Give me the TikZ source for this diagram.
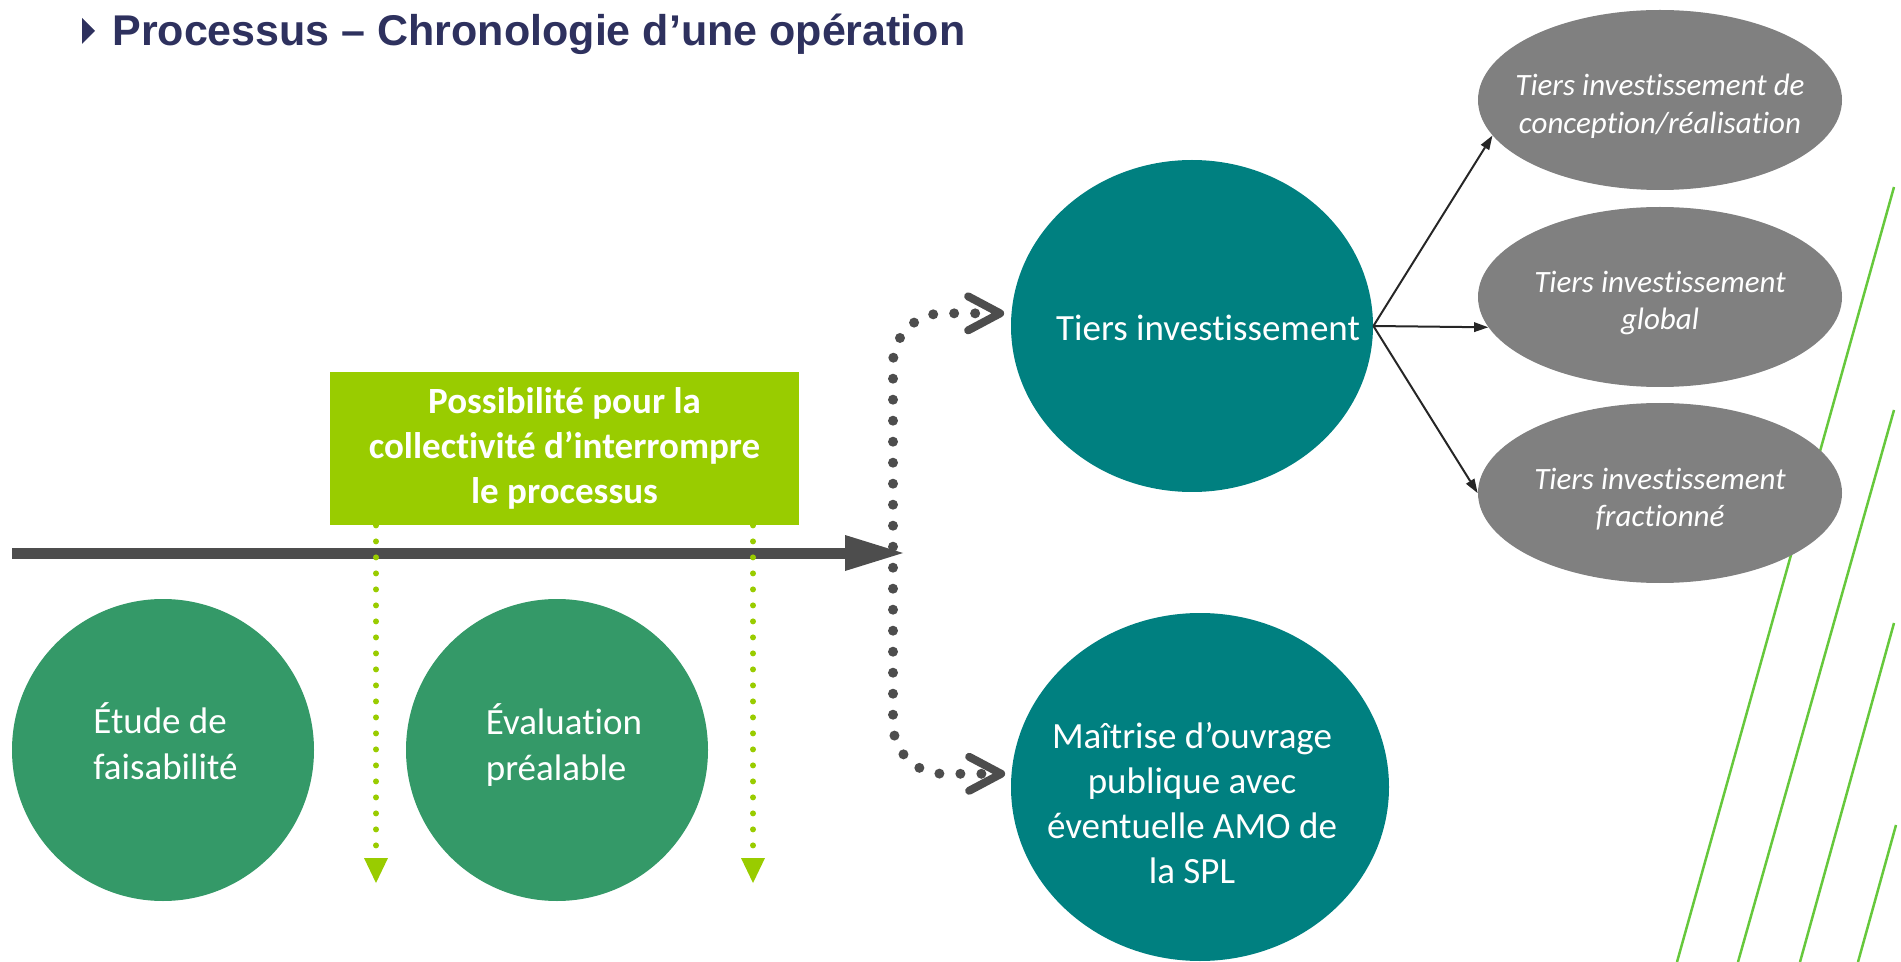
\documentclass[tikz,border=0pt]{standalone}
\usepackage{fontspec}
\setmainfont{Carlito}[Ligatures=NoCommon]
\newfontfamily\headfont{Liberation Sans}
\usetikzlibrary{arrows.meta,shapes.geometric}
\definecolor{titlenavy}{RGB}{46,49,94}
\definecolor{pathgray}{RGB}{77,77,77}
\definecolor{limegreen}{RGB}{153,204,0}
\definecolor{stepgreen}{RGB}{52,153,104}
\definecolor{tealfill}{RGB}{0,128,128}
\definecolor{optiongray}{RGB}{128,128,128}
\definecolor{stripegreen}{RGB}{102,200,60}
\definecolor{linkdark}{RGB}{38,38,38}

\begin{document}
\begin{tikzpicture}[x=0.5pt,y=0.5pt,yscale=-1,xscale=1,
  stepcircle/.style={circle,fill=stepgreen,inner sep=0pt,minimum size=151pt},
  steptext/.style={text=white,inner sep=0pt,align=left,font=\fontsize{18.5pt}{23pt}\selectfont},
  routeoval/.style={ellipse,fill=tealfill,inner sep=0pt},
  routetext/.style={text=white,inner sep=0pt,align=center,font=\fontsize{18.5pt}{22.5pt}\selectfont},
  optionoval/.style={ellipse,fill=optiongray,inner sep=0pt,minimum width=182pt,minimum height=90pt},
  optiontext/.style={text=white,inner sep=0pt,align=center,font=\itshape\fontsize{15.5pt}{18.75pt}\selectfont},
  interbox/.style={rectangle,fill=limegreen,text=white,inner sep=0pt,minimum width=234.5pt,minimum height=76.5pt,align=center,font=\bfseries\fontsize{18.5pt}{22.5pt}\selectfont},
  timeline/.style={draw=pathgray,line width=5.5pt,-{Triangle[length=29pt,width=18pt,line width=0pt]}},
  stopline/.style={draw=limegreen,line width=3pt,line cap=round,dash pattern=on 0pt off 8pt,-{Triangle[length=12.5pt,width=12pt,line width=0pt]}},
  routeline/.style={draw=pathgray,line width=5pt,line cap=round,dash pattern=on 0pt off 10.5pt,rounded corners=25pt,{Straight Barb[length=16pt,width=17pt,line width=4pt,round]}-{Straight Barb[length=16pt,width=17pt,line width=4pt,round]}},
  link/.style={draw=linkdark,line width=1pt,-{Triangle[length=7pt,width=5pt,line width=0pt]}},
  stripe/.style={draw=stripegreen,line width=1.25pt}
]
\useasboundingbox (0,0) rectangle (1901,962);

%Straight Lines (green stripes)
\draw[stripe] (1677,962) -- (1894,187);
\draw[stripe] (1738,962) -- (1894,410);
\draw[stripe] (1800,962) -- (1894,623);
\draw[stripe] (1858,962) -- (1896,825);

% Text Node
\fill[titlenavy] (82,18) -- (95,31) -- (82,44) -- cycle;
\node[anchor=base west,inner sep=0pt,text=titlenavy,font=\headfont\bfseries\fontsize{21.5pt}{26pt}\selectfont] (title) at (112,46) {Processus – Chronologie d’une opération};

%Straight Lines (time line)
\coordinate (tlstart) at (12,553);
\coordinate (tlend) at (903,553);
\draw[timeline] (tlstart) -- (tlend);

% Text Node
\node[interbox] (interrupt) at (564.5,448.5) {Possibilité pour la\\collectivité d’interrompre\\le processus};

%Straight Lines (stops)
\coordinate (stopa) at (376,883);
\coordinate (stopb) at (753,883);
\draw[stopline] (interrupt.south -| stopa) -- (stopa);
\draw[stopline] (interrupt.south -| stopb) -- (stopb);

%Shape: Circle
\node[stepcircle] (etude) at (163,750) {};
\node[stepcircle] (evaluation) at (557,750) {};
% Text Node
\node[steptext] (etudetext) at ([shift={(2.5,-8.5)}]etude.center) {Étude de\\faisabilité};
\node[steptext] (evaluationtext) at ([shift={(7,-5)}]evaluation.center) {Évaluation\\préalable};

%Shape: Ellipse
\node[routeoval,minimum width=181pt,minimum height=166pt] (tiers) at (1192,326) {};
\node[routeoval,minimum width=189pt,minimum height=174pt] (maitrise) at (1200,787) {};
% Text Node
\node[routetext] (tierstext) at ([shift={(16,2)}]tiers.center) {Tiers investissement};
\node[routetext] (maitrisetext) at ([shift={(-8,16)}]maitrise.center) {Maîtrise d’ouvrage\\publique avec\\éventuelle AMO de\\la SPL};

%Curve Lines
\coordinate (fork) at (893,553);
\draw[routeline,shorten <=3.5pt,shorten >=3pt] (tiers.176) -| (fork) |- (maitrise.176);

%Shape: Ellipse
\node[optionoval] (titop) at (1660,100) {};
\node[optionoval] (tiglobal) at (1660,297) {};
\node[optionoval] (tifrac) at (1660,493) {};
% Text Node
\node[optiontext] (titoptext) at ([shift={(0,6)}]titop.center) {Tiers investissement de\\conception/réalisation};
\node[optiontext] (tiglobaltext) at ([shift={(0,6)}]tiglobal.center) {Tiers investissement\\global};
\node[optiontext] (tifractext) at ([shift={(0,6)}]tifrac.center) {Tiers investissement\\fractionné};

%Straight Lines
\draw[link] (tiers.east) -- (titop.192);
\draw[link] (tiers.east) -- (tiglobal.190);
\draw[link] (tiers.east) -- (tifrac.west);

\end{tikzpicture}
\end{document}
